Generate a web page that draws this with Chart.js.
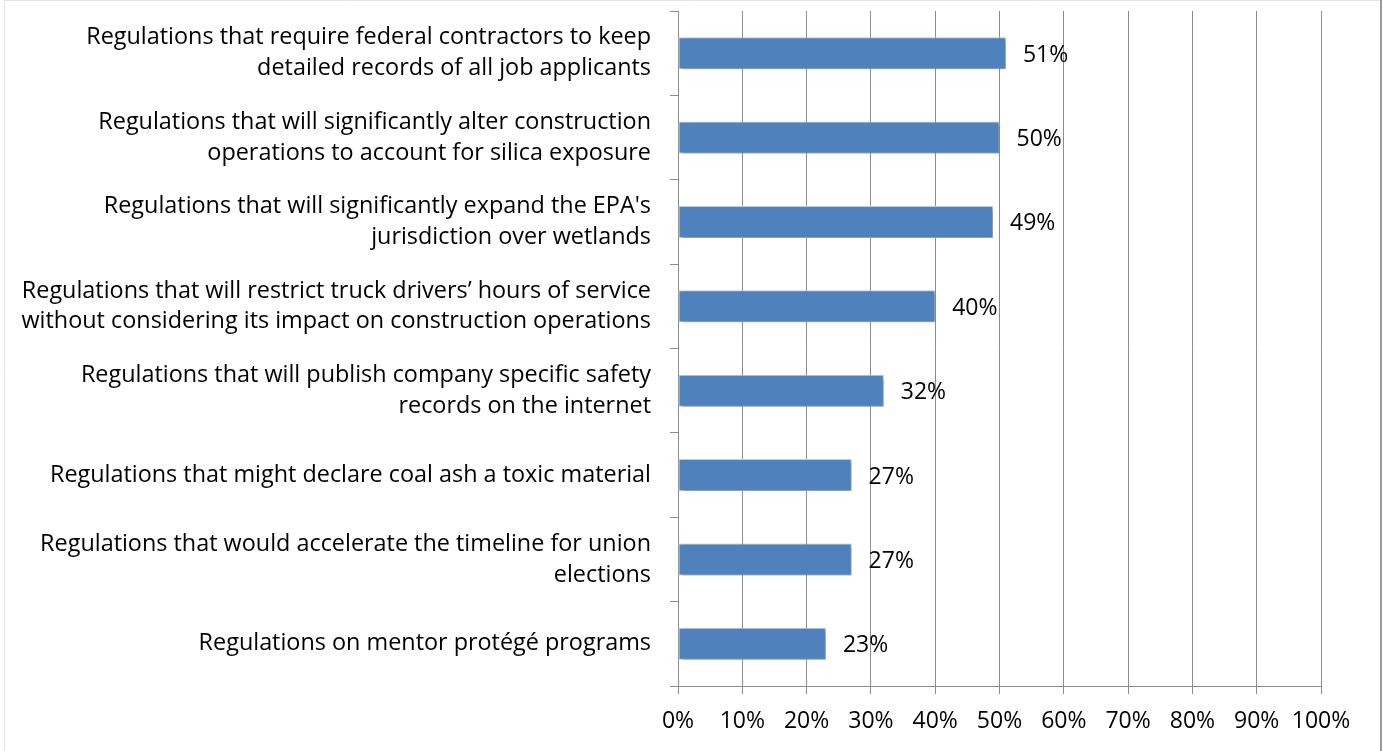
<!DOCTYPE html>
<html>
<head>
<meta charset="utf-8">
<script src="https://cdn.jsdelivr.net/npm/chart.js@4/dist/chart.umd.min.js"></script>
<style>
  html, body { margin: 0; padding: 0; background: #fff; }
  #wrap { position: relative; width: 1383px; height: 751px; }
</style>
</head>
<body>
<div id="wrap"><canvas id="chart" width="1383" height="751"></canvas></div>
<script>
// survey categories, top to bottom (line breaks as in the original)
const categories = [
  ['Regulations that require federal contractors to keep', 'detailed records of all job applicants'],
  ['Regulations that will significantly alter construction', 'operations to account for silica exposure'],
  ["Regulations that will significantly expand the EPA's", 'jurisdiction over wetlands'],
  ['Regulations that will restrict truck drivers\u2019 hours of service', 'without considering its impact on construction operations'],
  ['Regulations that will publish company specific safety', 'records on the internet'],
  ['Regulations that might declare coal ash a toxic material'],
  ['Regulations that would accelerate the timeline for union', 'elections'],
  ['Regulations on mentor prot\u00e9g\u00e9 programs'],
];
const values = [51, 50, 49, 40, 32, 27, 27, 23];
const xTicks = [0, 10, 20, 30, 40, 50, 60, 70, 80, 90, 100];

const FONT = '"Open Sans", Lato, sans-serif';
const GRID = '#8c8c8c';

// value labels to the right of each bar
const barLabels = {
  id: 'barLabels',
  afterDatasetsDraw(chart) {
    const { ctx } = chart;
    const meta = chart.getDatasetMeta(0);
    ctx.save();
    ctx.font = '23px ' + FONT;
    ctx.fillStyle = '#000';
    ctx.textAlign = 'left';
    ctx.textBaseline = 'middle';
    meta.data.forEach((bar, i) => {
      ctx.fillText(values[i] + '%', bar.x + 17, bar.y + 2);
    });
    ctx.restore();
  },
};

// soft drop shadow under the bars
const barShadow = {
  id: 'barShadow',
  beforeDatasetsDraw(chart) {
    const { ctx } = chart;
    ctx.save();
    ctx.shadowColor = 'rgba(0,0,0,0.35)';
    ctx.shadowBlur = 4;
    ctx.shadowOffsetX = 2;
    ctx.shadowOffsetY = 2;
  },
  afterDatasetsDraw(chart) {
    chart.ctx.restore();
  },
};

// faint frame around the chart
const frame = {
  id: 'frame',
  afterDraw(chart) {
    const { ctx } = chart;
    ctx.save();
    ctx.strokeStyle = '#e4e4e4';
    ctx.lineWidth = 1;
    ctx.beginPath();
    ctx.moveTo(4.5, 751);
    ctx.lineTo(4.5, 0.5);
    ctx.lineTo(1381, 0.5);
    ctx.stroke();
    ctx.strokeStyle = '#9a9a9a';
    ctx.lineWidth = 2;
    ctx.beginPath();
    ctx.moveTo(1381, 0);
    ctx.lineTo(1381, 751);
    ctx.stroke();
    ctx.restore();
  },
};

new Chart(document.getElementById('chart'), {
  type: 'bar',
  data: {
    labels: categories,
    datasets: [{
      data: values,
      backgroundColor: '#4f81bd',
      borderColor: '#c4d5ea',
      borderWidth: 1,
      borderSkipped: false,
      barPercentage: 0.38,
      categoryPercentage: 1,
    }],
  },
  plugins: [barShadow, barLabels, frame],
  options: {
    indexAxis: 'y',
    responsive: false,
    animation: false,
    layout: { padding: { top: 11, right: 62, bottom: 0, left: 0 } },
    plugins: {
      legend: { display: false },
      tooltip: { enabled: false },
    },
    scales: {
      x: {
        min: 0,
        max: 100,
        afterBuildTicks: (scale) => { scale.ticks = xTicks.map(v => ({ value: v })); },
        afterFit: (scale) => { scale.height = 65; },
        ticks: {
          callback: (v) => v + '%',
          color: '#000',
          padding: 14,
          maxRotation: 0,
          font: { family: FONT, size: 23 },
        },
        grid: { color: GRID, lineWidth: 1, tickLength: 8, tickColor: GRID },
        border: { color: GRID, width: 1 },
      },
      y: {
        afterFit: (scale) => {
          scale.width = 678;
          scale.paddingTop = 0;
          scale.paddingBottom = 0;
        },
        ticks: {
          color: '#000',
          padding: 19,
          autoSkip: false,
          crossAlign: 'near',
          font: { family: FONT, size: 23.4, lineHeight: 1.32 },
        },
        grid: { offset: true, drawOnChartArea: false, tickLength: 8, tickColor: GRID, color: GRID },
        border: { color: GRID, width: 1 },
      },
    },
  },
});
</script>
</body>
</html>
